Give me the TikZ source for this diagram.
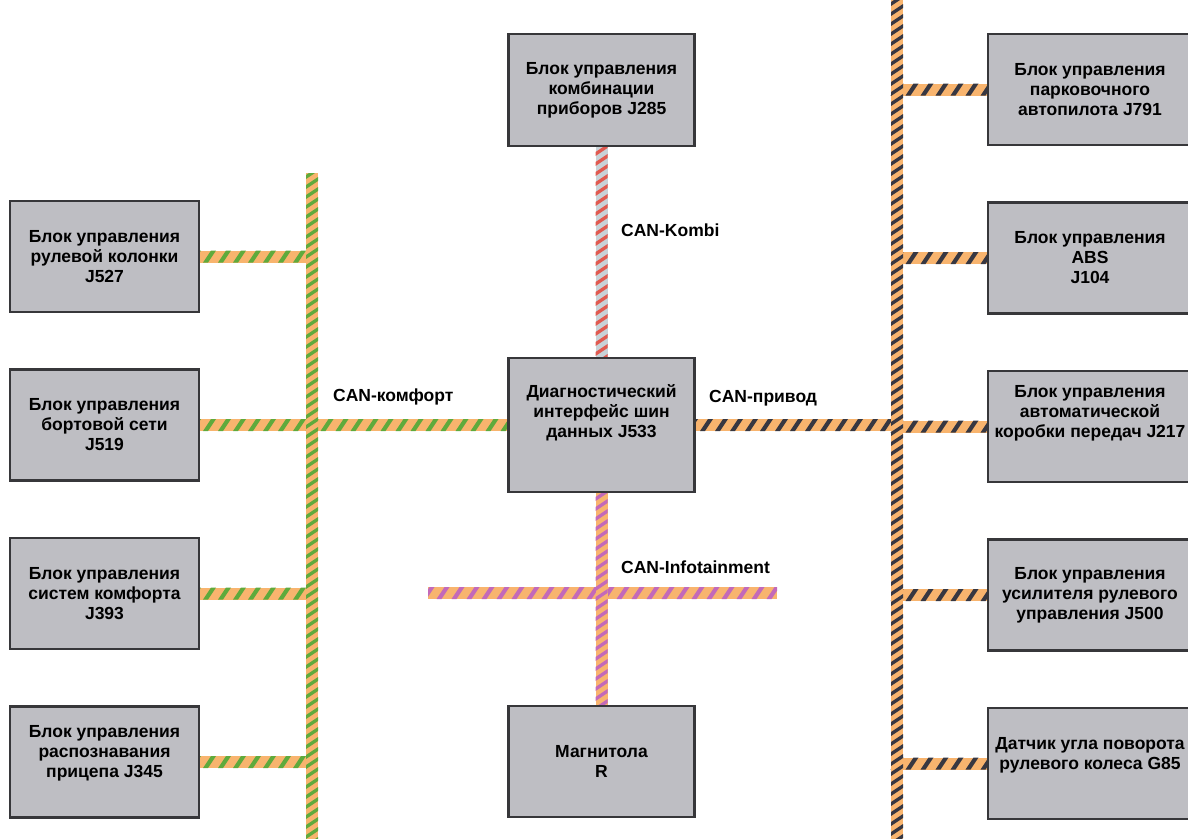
\documentclass[tikz,border=0pt]{standalone}
\usepackage{fontspec}
\setmainfont{Liberation Sans}
\usepackage{tikz}
\usepackage{xcolor}
\usetikzlibrary{positioning,decorations.markings}
\pgfdeclarelayer{bg}
\pgfsetlayers{bg,main}
\tikzset{
        ecu/.style={
            rectangle, draw=boxline, line width=2.5pt,
            fill=boxgray, align=center, inner sep=0pt,
            minimum width=189pt, minimum height=111pt,
            font=\bfseries\fontsize{17.5}{20}\selectfont
        },
        buslabel/.style={
            anchor=west, inner sep=0pt,
            font=\bfseries\fontsize{17.5}{20}\selectfont
        },
        hbus/.style 2 args={
            line width=12pt, draw=#1,
            postaction={decorate, decoration={markings,
                mark=between positions 0 and 1 step 15pt with
                {\fill[#2] (-6.5pt,-6pt) -- (-1.5pt,-6pt) -- (6.5pt,6pt) -- (1.5pt,6pt) -- cycle;}}}
        },
        vbus/.style 2 args={
            line width=12pt, draw=#1,
            postaction={decorate, decoration={markings,
                mark=between positions 0 and 1 step 10pt with
                {\fill[#2] (-6pt,6pt) -- (-2pt,6pt) -- (6pt,-6pt) -- (2pt,-6pt) -- cycle;}}}
        }
    }
\definecolor{boxgray}{RGB}{190,190,195}
\definecolor{boxline}{RGB}{55,55,58}
\definecolor{busorange}{RGB}{248,180,110}
\definecolor{busgreen}{RGB}{95,170,60}
\definecolor{busblack}{RGB}{55,55,65}
\definecolor{buspurple}{RGB}{195,105,185}
\definecolor{kombigray}{RGB}{200,210,215}
\definecolor{kombired}{RGB}{225,90,80}

\begin{document}
\begin{tikzpicture}[
    x = 1pt, y = -1pt,
    node distance = 55pt,
  ]
    \useasboundingbox (0,0) rectangle (1188,838);

    \node[ecu] (J527) at (104.5,256.5) {Блок управления\\рулевой колонки\\J527};
    \node[ecu, below=of J527] (J519) {Блок управления\\бортовой сети\\J519};
    \node[ecu, below=of J519] (J393) {Блок управления\\систем комфорта\\J393};
    \node[ecu, below=of J393, text depth=22pt] (J345) {Блок управления\\распознавания\\прицепа J345};

    \node[ecu, minimum width=186pt, minimum height=112pt] (J285) at (601.5,90) {Блок управления\\комбинации\\приборов J285};
    \node[ecu, minimum width=186pt, minimum height=134pt, text depth=28pt] (J533) at (601.5,425) {Диагностический\\интерфейс шин\\данных J533};
    \node[ecu, minimum width=186pt] (R) at (601.5,761.5) {Магнитола\\R};

    \node[ecu, minimum width=204pt] (J791) at (1090,89.5) {Блок управления\\парковочного\\автопилота J791};
    \node[ecu, minimum width=204pt, below=of J791] (J104) {Блок управления\\ABS\\J104};
    \node[ecu, minimum width=204pt, below=of J104, text depth=30pt] (J217) {Блок управления\\автоматической\\коробки передач J217};
    \node[ecu, minimum width=204pt, below=of J217] (J500) {Блок управления\\усилителя рулевого\\управления J500};
    \node[ecu, minimum width=204pt, below=of J500, text depth=20pt] (G85) {Датчик угла поворота\\рулевого колеса G85};

    \node[buslabel] (komfort) at (333,397) {CAN-комфорт};
    \node[buslabel] (kombi) at (621,230) {CAN-Kombi};
    \node[buslabel] (antrieb) at (709,398) {CAN-привод};
    \node[buslabel] (info) at (621,567) {CAN-Infotainment};

    \begin{pgfonlayer}{bg}
    \coordinate (ltop) at (312,173);
    \coordinate (lbot) at (312,850);
    \coordinate (rtop) at (897,-10);
    \coordinate (rbot) at (897,850);
    \coordinate (ileft) at (428,593);
    \coordinate (iright) at (777,593);

    \foreach \n in {J527,J519,J393,J345}
        \draw[hbus={busorange}{busgreen}] (\n.center) -- (\n -| ltop);
    \draw[hbus={busorange}{busgreen}] (J519 -| ltop) -- (J533.center);
    \begin{scope}
        \clip ([xshift=-6pt]ltop) rectangle ([xshift=6pt]lbot);
        \draw[vbus={busorange}{busgreen}] (ltop) -- (lbot);
    \end{scope}

    \draw[vbus={kombigray}{kombired}] (J285.center) -- (J533.center);

    \begin{scope}
        \clip ([yshift=6pt]ileft) rectangle ([yshift=-6pt]iright);
        \draw[hbus={busorange}{buspurple}] (ileft) -- (iright);
    \end{scope}
    \draw[vbus={busorange}{buspurple}] (J533.center) -- (R.center);

    \foreach \n in {J791,J104,J217,J500,G85}
        \draw[hbus={busorange}{busblack}] (\n -| rtop) -- (\n.center);
    \draw[hbus={busorange}{busblack}] (J533.center) -- (J533 -| rtop);
    \draw[vbus={busorange}{busblack}] (rtop) -- (rbot);
    \end{pgfonlayer}

\end{tikzpicture}
\end{document}
